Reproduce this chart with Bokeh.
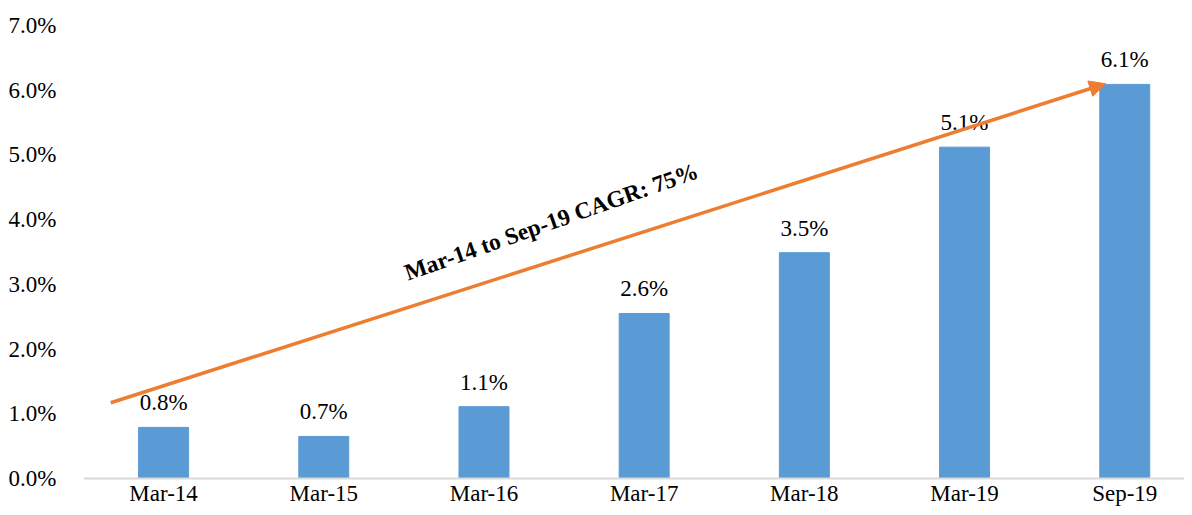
from bokeh.plotting import figure
from bokeh.models import (ColumnDataSource, Range1d, FixedTicker, PrintfTickFormatter,
                          Arrow, NormalHead, Label, LabelSet, Span)
from bokeh.core.properties import value
from bokeh.embed import file_html
from bokeh.resources import INLINE

categories = ["Mar-14", "Mar-15", "Mar-16", "Mar-17", "Mar-18", "Mar-19", "Sep-19"]
values = [0.79, 0.65, 1.11, 2.55, 3.49, 5.12, 6.09]
value_labels = ["0.8%", "0.7%", "1.1%", "2.6%", "3.5%", "5.1%", "6.1%"]
y_ticks = [0, 1, 2, 3, 4, 5, 6, 7]
cagr_text = "Mar-14 to Sep-19 CAGR: 75%"
arrow_start = (-0.33, 1.17)
arrow_end = (5.88, 6.10)

FONT = "Liberation Serif"
xs = list(range(len(categories)))
src = ColumnDataSource(dict(x=xs, top=values, lab=value_labels, cat=categories,
                            zero=[0] * len(categories)))

p = figure(width=1184, height=507, output_backend="svg", toolbar_location=None,
           x_range=Range1d(-0.5, 6.373), y_range=Range1d(-0.448, 7),
           x_axis_location=None,
           min_border_left=83, min_border_right=0, min_border_top=25, min_border_bottom=0)
p.outline_line_color = None
p.grid.visible = False
p.background_fill_color = "white"

p.add_layout(Span(location=0, dimension="width", line_color="#D9D9D9", line_width=2))

p.vbar(x="x", top="top", width=0.312, bottom=0, source=src, color="#5B9BD5")

p.add_layout(LabelSet(x="x", y="top", text="lab", source=src, text_align="center",
                      text_baseline="alphabetic", y_offset=17, text_font=FONT,
                      text_font_size="23px", text_color="black"))

# category labels under the baseline
p.text(x="x", y="zero", text="cat", source=src, text_align="center",
       text_baseline="middle", y_offset=15, text_font=value(FONT),
       text_font_size="23px", text_color="black")

p.add_layout(Arrow(x_start=arrow_start[0], y_start=arrow_start[1],
                   x_end=arrow_end[0], y_end=arrow_end[1],
                   line_color="#ED7D31", line_width=3.5,
                   end=NormalHead(size=16, fill_color="#ED7D31", line_color="#ED7D31")))

p.add_layout(Label(x=2.42, y=3.97, text=cagr_text, angle=19.5, angle_units="deg",
                   text_align="center", text_baseline="middle", text_font=FONT,
                   text_font_style="bold", text_font_size="23.5px", text_color="black"))

ya = p.yaxis[0]
ya.ticker = FixedTicker(ticks=y_ticks)
ya.formatter = PrintfTickFormatter(format="%.1f%%")
ya.major_tick_line_color = None
ya.minor_tick_line_color = None
ya.axis_line_color = None
ya.major_label_text_font = FONT
ya.major_label_text_font_size = "23px"
ya.major_label_text_color = "black"
ya.major_label_standoff = 21

open("out.html", "w").write(file_html(p, INLINE))
